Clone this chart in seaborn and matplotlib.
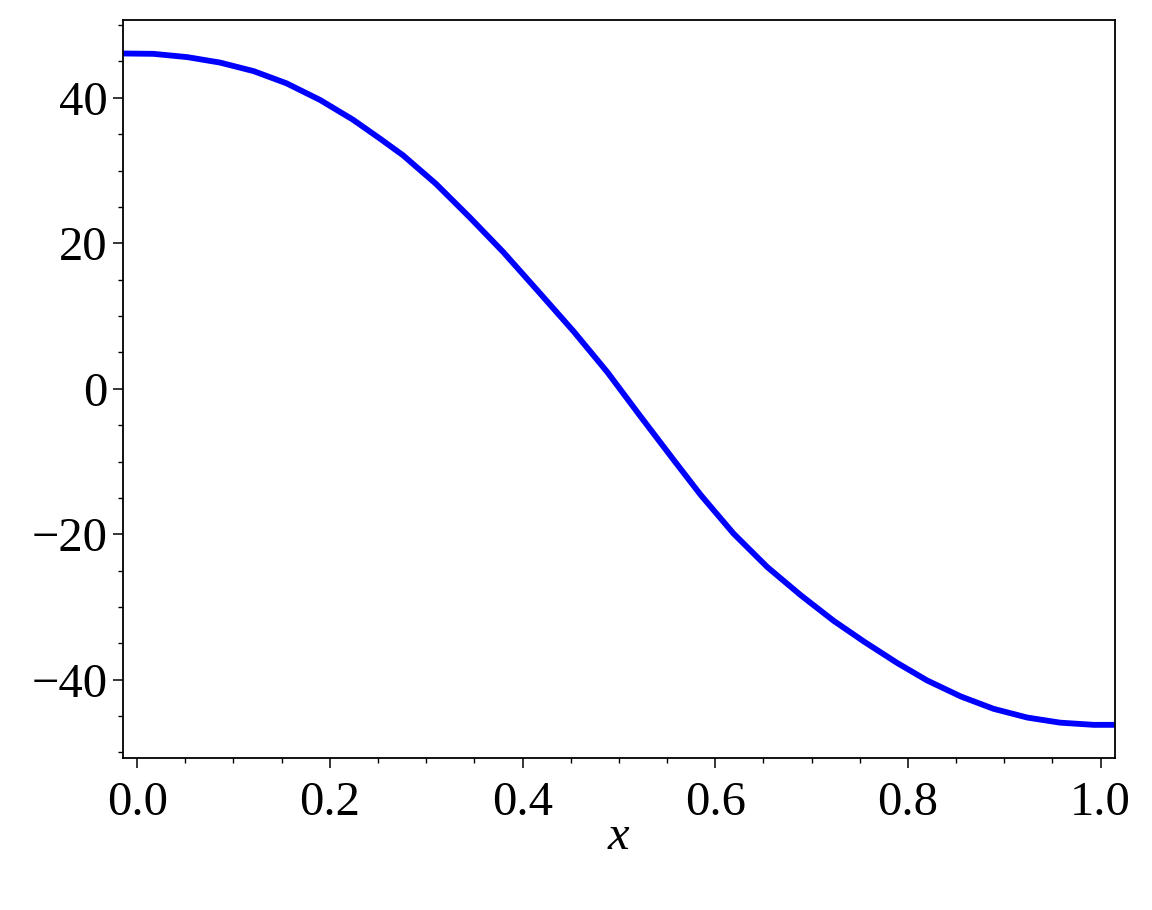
import matplotlib
matplotlib.use("Agg")
import matplotlib.pyplot as plt
from matplotlib.ticker import MultipleLocator
import pandas as pd
import seaborn as sns

# values
x_vals = [-0.015, 0.017, 0.052, 0.086, 0.121, 0.155, 0.190, 0.224, 0.252,
          0.276, 0.310, 0.345, 0.380, 0.419, 0.453, 0.488, 0.5225, 0.557,
          0.585, 0.619, 0.654, 0.689, 0.723, 0.755, 0.789, 0.820, 0.855,
          0.889, 0.924, 0.958, 0.993, 1.015]
y_vals = [46.1, 46.05, 45.6, 44.85, 43.67, 42.0, 39.7, 37.0, 34.4,
          32.1, 28.2, 23.6, 18.8, 13.0, 7.9, 2.3, -3.8, -9.8,
          -14.6, -19.9, -24.5, -28.4, -31.9, -34.8, -37.7, -40.1, -42.3,
          -44.0, -45.2, -45.9, -46.2, -46.2]
x_label = "x"

sns.set_theme(style="ticks")
plt.rcParams["font.family"] = ["Liberation Serif", "DejaVu Serif"]
plt.rcParams["axes.unicode_minus"] = True
plt.rcParams["text.color"] = "black"
plt.rcParams["axes.labelcolor"] = "black"
plt.rcParams["xtick.color"] = "black"
plt.rcParams["ytick.color"] = "black"

df = pd.DataFrame({"x": x_vals, "y": y_vals})

fig = plt.figure(figsize=(11.52, 9.10), dpi=100)
ax = fig.add_axes([0.1065, 0.1667, 0.8614, 0.8113])

sns.lineplot(data=df, x="x", y="y", ax=ax, color="#0000ff",
             linewidth=4.2, sort=False, estimator=None)

ax.set_xlim(-0.015, 1.015)
ax.set_ylim(-50.8, 50.7)
ax.xaxis.set_major_locator(MultipleLocator(0.2))
ax.xaxis.set_minor_locator(MultipleLocator(0.05))
ax.yaxis.set_major_locator(MultipleLocator(20))
ax.yaxis.set_minor_locator(MultipleLocator(5))
ax.xaxis.set_major_formatter(plt.FuncFormatter(lambda v, p: f"{v:.1f}"))

ax.tick_params(which="major", length=7, width=1.1, labelsize=35,
               direction="out", top=False, right=False,
               colors="black", labelcolor="black")
ax.tick_params(axis="x", which="major", pad=9)
ax.tick_params(axis="y", which="major", pad=4)
ax.tick_params(which="minor", length=3.8, width=1.0,
               direction="out", top=False, right=False, colors="black")
for s in ax.spines.values():
    s.set_linewidth(1.3)
    s.set_color("black")
    s.set_visible(True)

ax.set_xlabel(x_label, fontsize=35, style="italic", labelpad=-7,
              color="black")
ax.set_ylabel("")

fig.savefig("out.png", dpi=100)
